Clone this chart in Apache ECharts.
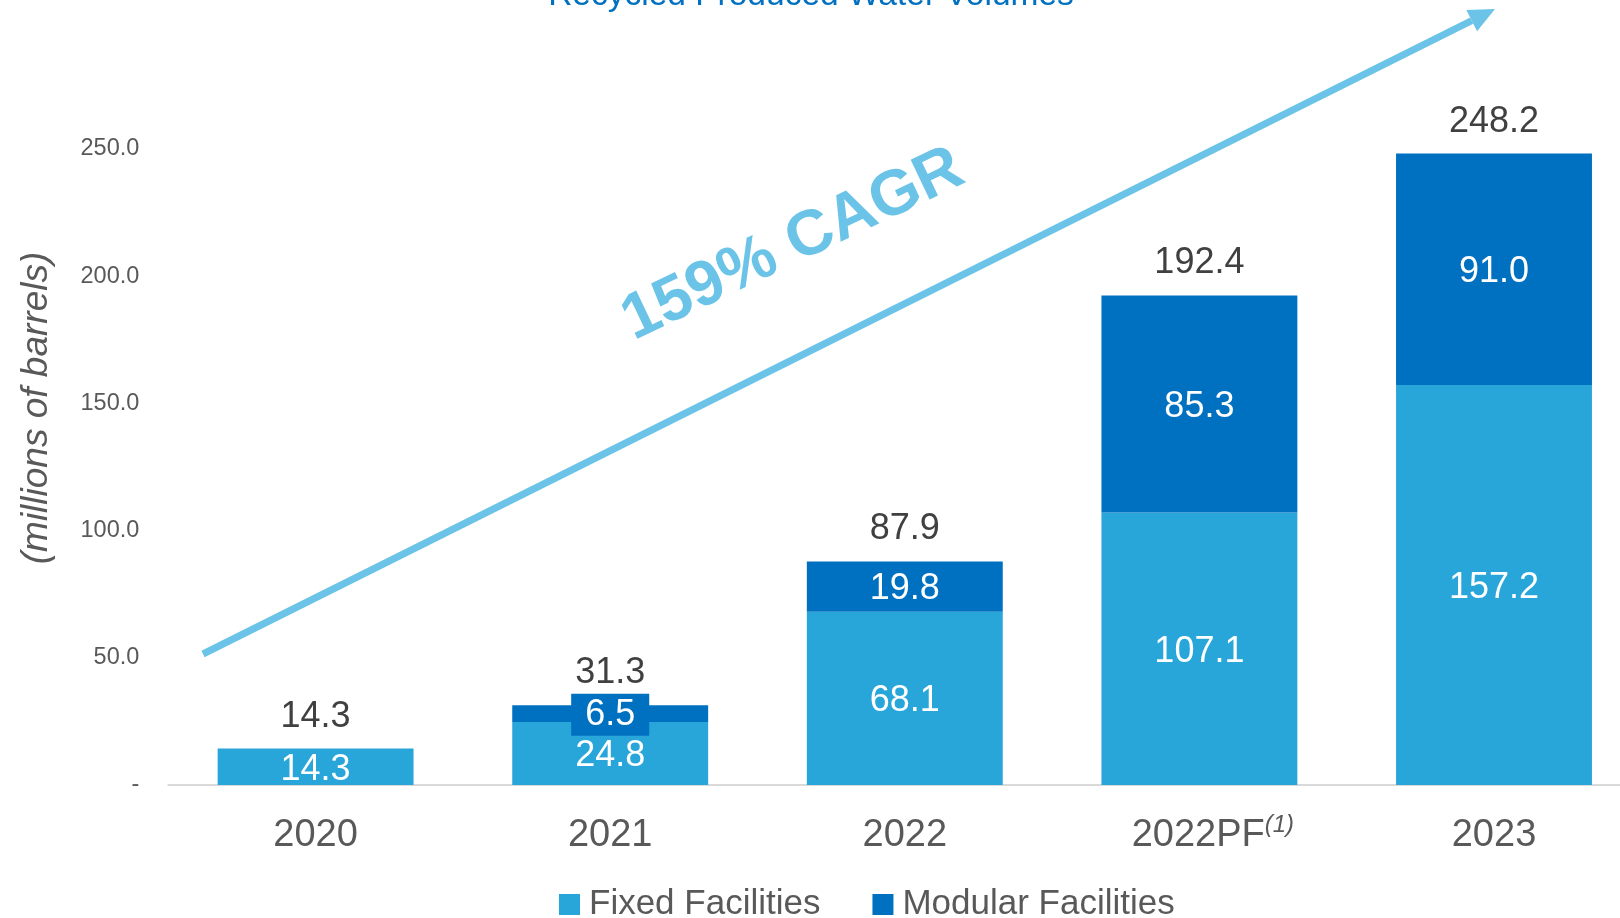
<!DOCTYPE html>
<html>
<head>
<meta charset="utf-8">
<style>
  html, body { margin: 0; padding: 0; background: #fff; }
  #chart { width: 1620px; height: 918px; }
</style>
<script src="https://cdn.jsdelivr.net/npm/echarts@6/dist/echarts.min.js"></script>
</head>
<body>
<div id="chart"></div>
<script>
const categories = ['2020', '2021', '2022', '2022PF', '2023']
const fixedFacilities = [14.3, 24.8, 68.1, 107.1, 157.2]
const modularFacilities = [0, 6.5, 19.8, 85.3, 91.0]
const totals = [14.3, 31.3, 87.9, 192.4, 248.2]
const yTicks = { min: 0, max: 250, interval: 50 }

const FONT = "'Liberation Sans', Arial, sans-serif"
const FIXED = '#29A6D9'
const MODULAR = '#0070C0'
const ARROW = '#6BC4E8'
const GREY = '#595959'

const chart = echarts.init(document.getElementById('chart'), null, { renderer: 'canvas' })

const valueLabel = {
  show: true, position: 'inside', offset: [0, 3], color: '#fff', fontFamily: FONT, fontSize: 36,
  formatter: (p) => (p.value ? p.value.toFixed(1) : ''),
}

// arrow geometry (annotation, pixels)
const a0 = [203, 654], a1 = [1495, 9]
const ang = Math.atan2(a1[1] - a0[1], a1[0] - a0[0])
const headLen = 26, headHalf = 12
const hb = [a1[0] - headLen * Math.cos(ang), a1[1] - headLen * Math.sin(ang)]
const nx = -Math.sin(ang), ny = Math.cos(ang)

chart.setOption({
  animation: false,
  grid: { left: 168.3, right: -21.3, top: 149, bottom: 133, outerBoundsMode: 'none' },
  legend: {
    data: ['Fixed Facilities', 'Modular Facilities'],
    left: 554, top: 882, icon: 'rect', itemWidth: 21, itemHeight: 21, itemGap: 52,
    textStyle: { color: GREY, fontFamily: FONT, fontSize: 35, padding: [0, 0, 0, 4] },
  },
  xAxis: {
    type: 'category', data: categories,
    axisLine: { lineStyle: { color: '#D9D9D9', width: 2 } },
    axisTick: { show: false },
    axisLabel: {
      interval: 0, color: GREY, fontFamily: FONT, fontSize: 38, margin: 28,
      formatter: (v) => (v === '2022PF' ? '{pad|}{a|2022PF}{sup|(1)}' : '{a|' + v + '}'),
      rich: {
        pad: { width: 27 },
        a: { color: GREY, fontFamily: FONT, fontSize: 38, lineHeight: 46 },
        sup: { color: GREY, fontFamily: FONT, fontSize: 24, fontStyle: 'italic', verticalAlign: 'top', lineHeight: 14 },
      },
    },
  },
  yAxis: {
    type: 'value', min: yTicks.min, max: yTicks.max, interval: yTicks.interval,
    splitLine: { show: false }, axisLine: { show: false }, axisTick: { show: false },
    axisLabel: {
      color: GREY, fontFamily: FONT, fontSize: 23.5, margin: 29,
      formatter: (v) => (v === 0 ? '-' : v.toFixed(1)),
    },
  },
  series: [
    {
      name: 'Fixed Facilities', type: 'bar', stack: 'a', barWidth: '66.5%',
      itemStyle: { color: FIXED }, label: valueLabel,
      data: fixedFacilities,
    },
    {
      name: 'Modular Facilities', type: 'bar', stack: 'a',
      itemStyle: { color: MODULAR }, label: valueLabel,
      data: modularFacilities.map((v) => (v > 0 && v < 10
        ? { value: v, label: { offset: [0, 1], backgroundColor: MODULAR, padding: [6, 14, 0, 14] } }
        : v)),
    },
    {
      name: 'Total', type: 'bar', stack: 'a',
      itemStyle: { color: 'transparent' },
      label: {
        show: true, position: 'top', distance: 14, color: '#404040', fontFamily: FONT, fontSize: 36,
        formatter: (p) => totals[p.dataIndex].toFixed(1),
      },
      data: totals.map(() => 0),
    },
  ],
  graphic: [
    {
      type: 'text', x: 811, y: 13, silent: true,
      style: { text: 'Recycled Produced Water Volumes', fill: MODULAR, font: '33.5px ' + FONT, textAlign: 'center', textVerticalAlign: 'bottom' },
    },
    {
      type: 'text', x: 37, y: 408, rotation: Math.PI / 2, silent: true,
      style: { text: '(millions of barrels)', fill: GREY, font: 'italic 37px ' + FONT, textAlign: 'center', textVerticalAlign: 'middle' },
    },
    {
      type: 'line', silent: true,
      shape: { x1: a0[0], y1: a0[1], x2: hb[0], y2: hb[1] },
      style: { stroke: ARROW, lineWidth: 7 },
    },
    {
      type: 'polygon', silent: true,
      shape: { points: [a1, [hb[0] + nx * headHalf, hb[1] + ny * headHalf], [hb[0] - nx * headHalf, hb[1] - ny * headHalf]] },
      style: { fill: ARROW },
    },
    {
      type: 'text', x: 793, y: 245, rotation: 25.5 * Math.PI / 180, silent: true,
      style: { text: '159% CAGR', fill: ARROW, font: 'bold 64px ' + FONT, textAlign: 'center', textVerticalAlign: 'middle' },
    },
  ],
})

window.addEventListener('resize', () => chart.resize())
</script>
</body>
</html>
